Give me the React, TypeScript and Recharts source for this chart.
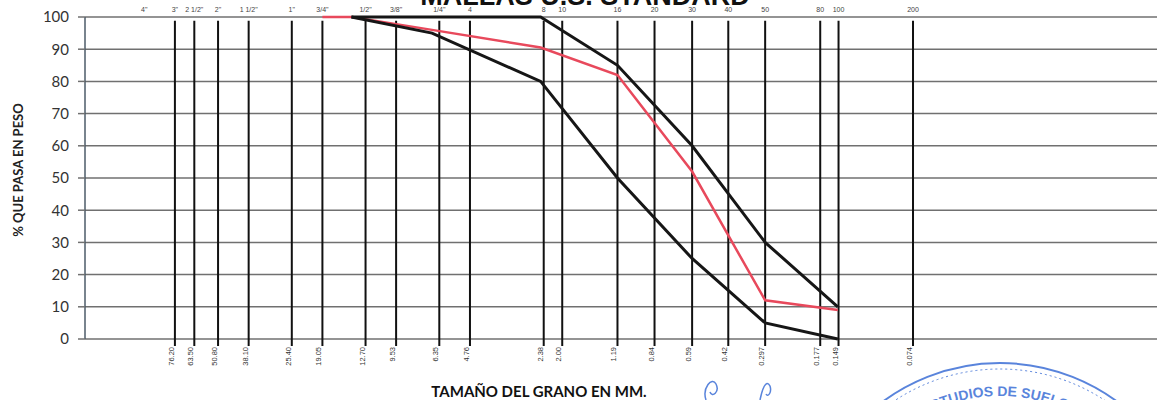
import { LineChart, Line, XAxis, YAxis, CartesianGrid, ReferenceLine } from "recharts";

// Aberturas de tamiz (mm) y su rótulo inferior
const sieveMm = [76.2, 63.5, 50.8, 38.1, 25.4, 19.05, 12.7, 9.53, 6.35, 4.76, 2.38, 2.0, 1.19, 0.84, 0.59, 0.42, 0.297, 0.177, 0.149, 0.074];
const mmLabels = ["76.20", "63.50", "50.80", "38.10", "25.40", "19.05", "12.70", "9.53", "6.35", "4.76", "2.38", "2.00", "1.19", "0.84", "0.59", "0.42", "0.297", "0.177", "0.149", "0.074"];

// Designación de las mallas (fila superior, el 4" no lleva línea)
const topMm = [101.6, ...sieveMm];
const sieveNames = ['4"', '3"', '2 1/2"', '2"', '1 1/2"', '1"', '3/4"', '1/2"', '3/8"', '1/4"', "4", "8", "10", "16", "20", "30", "40", "50", "80", "100", "200"];

const percentTicks = [0, 10, 20, 30, 40, 50, 60, 70, 80, 90, 100];

// Husos límite
const limitMm = [14.5, 6.8, 2.45, 1.19, 0.59, 0.297, 0.15];
const upperLimit = [100, 100, 100, 85, 60, 30, 10];
const lowerLimit = [100, 95, 80, 50, 25, 5, 0];

// Curva de la muestra
const sampleMm = [19.05, 14.5, 6.8, 2.45, 1.19, 0.59, 0.297, 0.15];
const samplePass = [100, 100, 96, 90.5, 82, 52, 12, 9];

const X_DOMAIN: [number, number] = [0.00747, 177.4];

const upperData = limitMm.map((mm, i) => ({ mm, pct: upperLimit[i] }));
const lowerData = limitMm.map((mm, i) => ({ mm, pct: lowerLimit[i] }));
const sampleData = sampleMm.map((mm, i) => ({ mm, pct: samplePass[i] }));

const BottomTick = (props: any) => {
  const { x, y, payload } = props;
  const label = mmLabels[sieveMm.indexOf(payload.value)];
  const tx = x - 1;
  return (
    <text
      x={tx}
      y={y}
      transform={`rotate(-90, ${tx}, ${y})`}
      textAnchor="end"
      fontSize={7.5}
      fontFamily="Liberation Sans"
      fill="#333"
    >
      {label}
    </text>
  );
};

// rótulo de la malla encima de su línea
const topLabel = (name: string) => (p: any) => (
  <text x={p.viewBox.x} y={12} textAnchor="middle" fontSize={7} fontFamily="Liberation Sans" fill="#444">
    {name}
  </text>
);

export default function App() {
  return (
    <div style={{ position: "absolute", left: 0, top: 0, width: 1157, height: 400, background: "#fff", overflow: "hidden" }}>
      <LineChart width={1157} height={400} margin={{ top: 17, right: 0, bottom: 0, left: 0 }}>
        <CartesianGrid vertical={false} stroke="#707070" strokeWidth={1.5} />
        <XAxis
          dataKey="mm"
          type="number"
          scale="log"
          domain={X_DOMAIN}
          reversed
          allowDataOverflow
          ticks={sieveMm}
          interval={0}
          height={61}
          axisLine={false}
          tickLine={false}
          tickSize={0}
          tickMargin={8}
          tick={<BottomTick />}
        />
        <YAxis
          type="number"
          domain={[0, 100]}
          ticks={percentTicks}
          interval={0}
          width={85}
          tickSize={7}
          tickMargin={9}
          axisLine={{ stroke: "#4d5b69", strokeWidth: 1.5 }}
          tickLine={{ stroke: "#707070", strokeWidth: 1.5 }}
          tick={{ fontSize: 15, fill: "#333", fontFamily: "Lato" }}
        />

        {/* líneas verticales de cada malla con su designación arriba */}
        {topMm.map((mm, i) => (
          <ReferenceLine
            key={mm}
            segment={[{ x: mm, y: 98.8 }, { x: mm, y: -2.2 }]}
            stroke={sieveMm.includes(mm) ? "#111" : "none"}
            strokeWidth={2}
            ifOverflow="visible"
            label={topLabel(sieveNames[i])}
          />
        ))}

        <Line data={sampleData} dataKey="pct" type="linear" stroke="#e8495c" strokeWidth={2.5} dot={false} isAnimationActive={false} />
        <Line data={upperData} dataKey="pct" type="linear" stroke="#161616" strokeWidth={3} dot={false} isAnimationActive={false} />
        <Line data={lowerData} dataKey="pct" type="linear" stroke="#161616" strokeWidth={3} dot={false} isAnimationActive={false} />
      </LineChart>

      {/* títulos, sello y firma */}
      <svg width={1157} height={400} style={{ position: "absolute", left: 0, top: 0, pointerEvents: "none" }}>
        <text x={585} y={5} textAnchor="middle" fontSize={27} fontWeight="bold" fontFamily="Liberation Sans" fill="#111">
          MALLAS U.S. STANDARD
        </text>
        <text
          x={23}
          y={170}
          transform="rotate(-90, 23, 170)"
          textAnchor="middle"
          fontSize={13}
          fontWeight="bold"
          fontFamily="Lato"
          fill="#222"
        >
          % QUE PASA EN PESO
        </text>
        <text x={539} y={397} textAnchor="middle" fontSize={15} fontWeight="bold" fontFamily="Lato" fill="#111">
          TAMAÑO DEL GRANO EN MM.
        </text>

        <g stroke="#3d6fd6" fill="none" opacity={0.85}>
          <circle cx={1000} cy={560} r={197} strokeWidth={2} />
          <circle cx={1000} cy={560} r={191} strokeWidth={1} strokeDasharray="2 3" />
          <path id="stampArc" d="M 836 560 A 164 164 0 0 1 1164 560" stroke="none" />
          <path d="M 706 400 C 702 388, 712 376, 716 384 C 720 392, 712 398, 710 392" strokeWidth={1.5} />
          <path d="M 760 400 C 762 390, 766 378, 770 386 C 772 392, 768 398, 766 394" strokeWidth={1.5} />
        </g>
        <text fontSize={14} fontWeight="bold" fontFamily="Liberation Sans" fill="#3d6fd6" opacity={0.85}>
          <textPath href="#stampArc" startOffset="50%" textAnchor="middle">
            ESTUDIOS DE SUELOS
          </textPath>
        </text>
      </svg>
    </div>
  );
}
